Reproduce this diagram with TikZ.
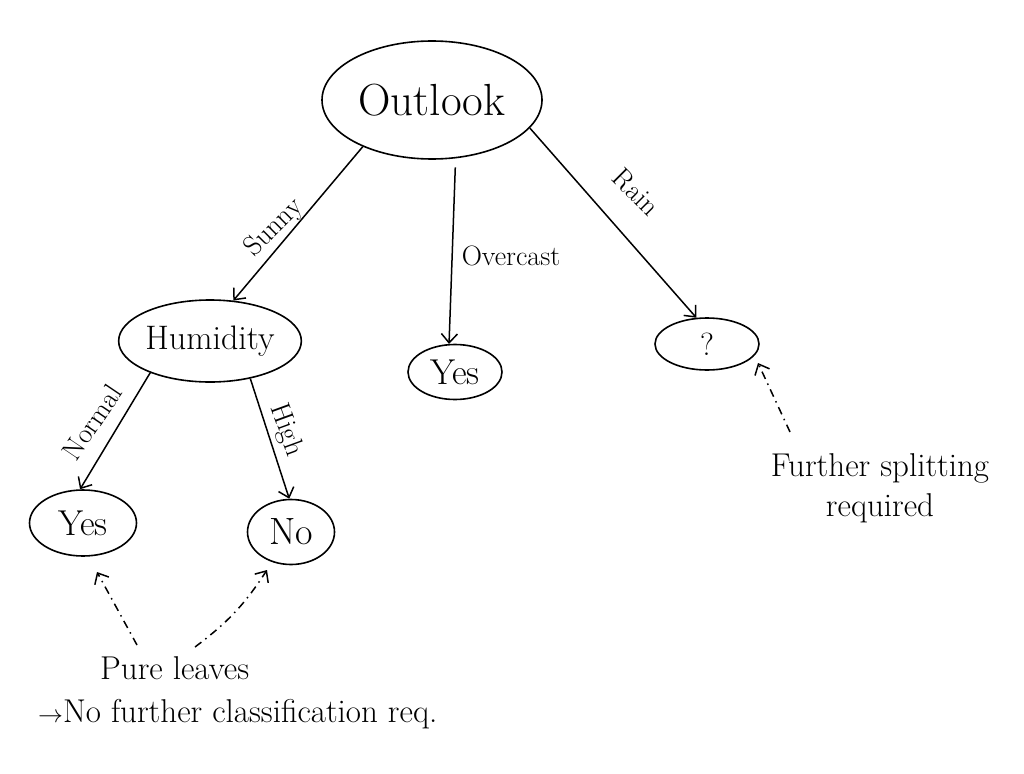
\documentclass[tikz,border=0pt]{standalone}
\usetikzlibrary{arrows.meta,shapes.geometric}
\begin{document}
\begin{tikzpicture}[x=1pt,y=-1pt,
  ell/.style={draw, ellipse, line width=1.6pt, inner sep=0pt},
  conn/.style={line width=1.5pt, -{Straight Barb[length=9pt,width=16pt,line width=1.5pt]}},
  hint/.style={line width=1.5pt, dash pattern=on 8pt off 5pt on 1.5pt off 5pt, -{Straight Barb[length=9pt,width=16pt,line width=1.5pt]}},
  lbl/.style={font=\fontsize{28}{30}\selectfont, inner sep=0pt},
  note/.style={font=\fontsize{33}{40}\selectfont, inner sep=0pt, align=center}
]
\useasboundingbox (0,0) rectangle (1024,773);
\fill[white] (0,0) rectangle (1024,773);

\node[ell, minimum width=220pt, minimum height=118pt, font=\fontsize{45}{48}\selectfont] (outlook) at (432,100) {Outlook};
\node[ell, minimum width=180pt, minimum height=82pt, font=\fontsize{34}{36}\selectfont] (humidity) at (210,341) {Humidity};
\node[ell, minimum width=94pt, minimum height=55pt, font=\fontsize{36}{38}\selectfont] (yesmid) at (455,372) {Yes};
\node[ell, minimum width=104pt, minimum height=52pt, font=\fontsize{32}{34}\selectfont] (rainq) at (707,344) {?};
\node[ell, minimum width=107pt, minimum height=66pt, font=\fontsize{36}{38}\selectfont] (yesleaf) at (83,523) {Yes};
\node[ell, minimum width=87pt, minimum height=65pt, font=\fontsize{38}{40}\selectfont] (noleaf) at (291,532) {No};

\draw[conn] (outlook.214) -- (humidity.60);
\draw[conn, shorten <=9pt] (outlook.292) -- (yesmid.102);
\draw[conn] (outlook.344) -- (rainq.112);
\draw[conn] (humidity.208) -- (yesleaf.95);
\draw[conn] (humidity.317) -- (noleaf.93);

\node[lbl, rotate=45] (lsunny) at (274,228) {Sunny};
\node[lbl] (lover) at (511,256) {Overcast};
\node[lbl, rotate=-45] (lrain) at (636,192) {Rain};
\node[lbl, rotate=56] (lnormal) at (92,422) {Normal};
\node[lbl, rotate=-70] (lhigh) at (286,430) {High};

\node[note] (further) at (880,488) {Further splitting\\ required};
\node[note, anchor=west] (pure) at (100,668) {Pure leaves};
\node[note, anchor=west] (noreq) at (38,714) {$\rightarrow$No further classification req.};

\coordinate (fs) at (790,432);
\coordinate (pl) at (137,645);
\coordinate (pr) at (195,647);
\draw[hint] (fs) -- (758,363);
\draw[hint] (pl) -- (97,572);
\draw[hint] (pr) to[bend right=10] (267,570);
\end{tikzpicture}
\end{document}
